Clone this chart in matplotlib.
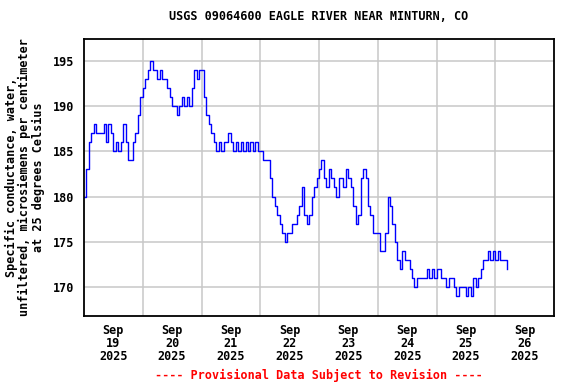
import numpy as np
import matplotlib
matplotlib.use("Agg")
from matplotlib import pyplot as plt

# hourly readings starting Sep 19 2025 00:00 (hours since start)
sep19 = [180, 183, 186, 187, 188, 187, 187, 187, 188, 186, 188, 187,
         185, 186, 185, 186, 188, 186, 184, 184, 186, 187, 189, 191]
sep20 = [192, 193, 194, 195, 194, 194, 193, 194, 193, 193, 192, 191,
         190, 190, 189, 190, 191, 190, 191, 190, 192, 194, 193, 194]
sep21 = [194, 191, 189, 188, 187, 186, 185, 186, 185, 186, 186, 187,
         186, 185, 186, 185, 186, 185, 186, 185, 186, 185, 186, 185]
sep22 = [185, 184, 184, 184, 182, 180, 179, 178, 177, 176, 175, 176,
         176, 177, 177, 178, 179, 181, 178, 177, 178, 180, 181, 182]
sep23 = [183, 184, 182, 181, 183, 182, 181, 180, 182, 182, 181, 183,
         182, 181, 179, 177, 178, 182, 183, 182, 179, 178, 176, 176]
sep24 = [176, 174, 174, 176, 180, 179, 177, 175, 173, 172, 174, 173,
         173, 172, 171, 170, 171, 171, 171, 171, 172, 171, 172, 171]
sep25 = [172, 172, 171, 171, 170, 171, 171, 170, 169, 170, 170, 170,
         169, 170, 169, 171, 170, 171, 172, 173, 173, 174, 173, 174]
sep26 = [173, 174, 173, 173, 173, 172]

values = sep19 + sep20 + sep21 + sep22 + sep23 + sep24 + sep25 + sep26
hours = np.arange(len(values))

y_ticks = [170, 175, 180, 185, 190, 195]
day_labels = ["Sep\n19\n2025", "Sep\n20\n2025", "Sep\n21\n2025", "Sep\n22\n2025",
              "Sep\n23\n2025", "Sep\n24\n2025", "Sep\n25\n2025", "Sep\n26\n2025"]

font = {"family": "DejaVu Sans Mono", "weight": "bold", "size": 8.5}

fig = plt.figure(figsize=(5.76, 3.84), dpi=100)
ax = fig.add_axes([84 / 576, 1 - 316 / 384, 470 / 576, 277 / 384])

ax.plot(hours, values, color="#0000ff", lw=1.0, drawstyle="steps-post")

ax.set_xlim(0, 192)
ax.set_ylim(166.8, 197.4)

# gridlines at midnight, labels at noon
ax.set_xticks(np.arange(24, 192, 24), minor=False)
ax.set_xticklabels([])
ax.set_xticks(np.arange(12, 192, 24), minor=True)
ax.set_xticklabels(day_labels, minor=True, fontdict=font, linespacing=1.0)
ax.set_yticks(y_ticks)
ax.set_yticklabels([str(t) for t in y_ticks], fontdict=font)
ax.tick_params(which="both", length=0, pad=6)
ax.tick_params(axis="y", pad=7)
ax.grid(True, which="major", color="#c8c8c8", lw=1.1)
ax.set_axisbelow(True)
for s in ax.spines.values():
    s.set_linewidth(1.3)

ax.set_title("USGS 09064600 EAGLE RIVER NEAR MINTURN, CO", fontdict=font, pad=14)
ax.set_ylabel("Specific conductance, water,\nunfiltered, microsiemens per centimeter\nat 25 degrees Celsius",
              fontdict=font, linespacing=1.0, labelpad=6)

fig.text(319 / 576, 1 - 375 / 384, "---- Provisional Data Subject to Revision ----",
         color="red", ha="center", va="center", **font)

plt.savefig("out.png", dpi=100)
